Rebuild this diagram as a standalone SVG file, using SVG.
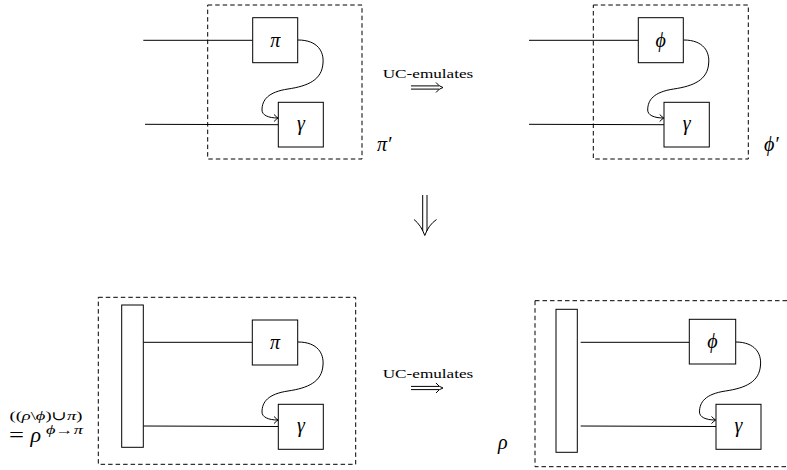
<svg xmlns="http://www.w3.org/2000/svg" width="787" height="470" viewBox="0 0 787 470">
<style>
.box{fill:#fff;stroke:#000;stroke-width:1}
.dash{fill:none;stroke:#000;stroke-width:1;stroke-dasharray:4.5,3}
.ln{fill:none;stroke:#000;stroke-width:1}
.m{font-family:"Liberation Serif","DejaVu Serif",serif;font-style:italic;font-size:20px;fill:#000}
.r{font-family:"Liberation Serif","DejaVu Serif",serif;font-style:normal;fill:#000}
.uc{font-family:"Liberation Serif","DejaVu Serif",serif;font-size:13px;fill:#000}
</style>
<defs>
<marker id="ah" markerUnits="userSpaceOnUse" markerWidth="10" markerHeight="10" refX="0" refY="0" viewBox="-5 -5 10 10" orient="auto" overflow="visible">
<path d="M-4,-3.5 Q-1.5,-1 0,0 Q-1.5,1 -4,3.5" fill="none" stroke="#000" stroke-width="1"/>
</marker>
<g id="dbl">
<line x1="411" y1="-1.6" x2="439" y2="-1.6" class="ln"/>
<line x1="411" y1="1.6" x2="439" y2="1.6" class="ln"/>
<path d="M436,-5 Q439,-1 443,0 Q439,1 436,5" class="ln"/>
</g>
</defs>

<g id="frame-top-left"><rect x="207.7" y="5" width="154.3" height="154" class="dash"/></g>
<g id="frame-top-right"><rect x="593.3" y="5" width="155" height="154" class="dash"/></g>
<g id="frame-bottom-left"><rect x="98.3" y="297.3" width="257.4" height="167" class="dash"/></g>
<g id="frame-bottom-right"><rect x="535" y="300.7" width="260" height="166" class="dash"/></g>

<g id="connectors">
<line x1="143.3" y1="40.3" x2="252.7" y2="40.3" class="ln"/>
<line x1="145" y1="124.3" x2="278.3" y2="124.7" class="ln"/>
<path d="M298,40 C318,40 324,52 323,63 C322,80 308,86 288,89 C268,92 262,100 262,110 C262,115 268,118 278,118" class="ln" marker-end="url(#ah)"/>
<line x1="529" y1="40.3" x2="638.3" y2="40.3" class="ln"/>
<line x1="529" y1="124.3" x2="664" y2="124.7" class="ln"/>
<path transform="translate(385.7,0)" d="M298,40 C318,40 324,52 323,63 C322,80 308,86 288,89 C268,92 262,100 262,110 C262,115 268,118 278,118" class="ln" marker-end="url(#ah)"/>
<line x1="143.3" y1="342.3" x2="252.3" y2="342.3" class="ln"/>
<line x1="143.3" y1="426" x2="278.3" y2="426.5" class="ln"/>
<path transform="translate(0,302)" d="M298,40 C318,40 324,52 323,63 C322,80 308,86 288,89 C268,92 262,100 262,110 C262,115 268,118 278,118" class="ln" marker-end="url(#ah)"/>
<line x1="580.7" y1="342.3" x2="689.3" y2="342.3" class="ln"/>
<line x1="580.7" y1="426" x2="716" y2="426.5" class="ln"/>
<path transform="translate(437.5,302)" d="M298,40 C318,40 324,52 323,63 C322,80 308,86 288,89 C268,92 262,100 262,110 C262,115 268,118 278,118" class="ln" marker-end="url(#ah)"/>
<use href="#dbl" transform="translate(0,87.5)"/>
<use href="#dbl" transform="translate(0,388)"/>
<line x1="422.7" y1="195" x2="422.7" y2="231" class="ln"/>
<line x1="427" y1="195" x2="427" y2="231" class="ln"/>
<path d="M414,219.5 Q421,225 424.8,235.5 Q428.5,225 436.5,219.5" class="ln"/>
</g>

<g id="pi-top"><rect x="252.7" y="17.7" width="45" height="45" class="box"/><text x="275.2" y="47" text-anchor="middle" class="m">π</text></g>
<g id="gamma-top-left"><rect x="278.3" y="102.3" width="45" height="44.7" class="box"/><text x="301" y="129.5" text-anchor="middle" class="m">γ</text></g>
<g id="pi-prime-label"><text x="377" y="151" class="m">π′</text></g>

<g id="phi-top"><rect x="638.3" y="17.7" width="45" height="45" class="box"/><text x="660.8" y="46.5" text-anchor="middle" class="m">ϕ</text></g>
<g id="gamma-top-right"><rect x="664" y="102.3" width="45.3" height="44.7" class="box"/><text x="686.7" y="129.5" text-anchor="middle" class="m">γ</text></g>
<g id="phi-prime-label"><text x="764" y="151" class="m">ϕ′</text></g>

<g id="uc-top"><text x="382.7" y="78" class="uc" textLength="90.6" lengthAdjust="spacingAndGlyphs">UC-emulates</text></g>
<g id="uc-bottom"><text x="382.7" y="378" class="uc" textLength="90.6" lengthAdjust="spacingAndGlyphs">UC-emulates</text></g>

<g id="rho-bar-left"><rect x="121.7" y="305" width="21.6" height="142.3" class="box"/></g>
<g id="pi-bottom"><rect x="252.3" y="320" width="45.4" height="45" class="box"/><text x="275" y="349" text-anchor="middle" class="m">π</text></g>
<g id="gamma-bottom-left"><rect x="278.3" y="404.3" width="45" height="45" class="box"/><text x="301" y="431.5" text-anchor="middle" class="m">γ</text></g>
<g id="rho-formula-label">
<text x="9.5" y="420" style="font-size:12.5px" class="r" textLength="73" lengthAdjust="spacingAndGlyphs">((<tspan style="font-style:italic">ρ</tspan>\<tspan style="font-style:italic">ϕ</tspan>)∪<tspan style="font-style:italic">π</tspan>)</text>
<text x="9" y="442" style="font-size:22px" class="r" textLength="15" lengthAdjust="spacingAndGlyphs">=</text>
<text x="30.5" y="442" style="font-size:22px" class="m">ρ</text>
<text x="46" y="433.5" style="font-size:12px" class="r" textLength="37" lengthAdjust="spacingAndGlyphs"><tspan style="font-style:italic">ϕ</tspan>→<tspan style="font-style:italic">π</tspan></text>
</g>

<g id="rho-bar-right"><rect x="556" y="309.3" width="21.3" height="143" class="box"/></g>
<g id="phi-bottom"><rect x="689.3" y="319.3" width="46.4" height="44.7" class="box"/><text x="712.5" y="348" text-anchor="middle" class="m">ϕ</text></g>
<g id="gamma-bottom-right"><rect x="716" y="404.3" width="45" height="45" class="box"/><text x="738.5" y="431.5" text-anchor="middle" class="m">γ</text></g>
<g id="rho-label"><text x="498" y="449" class="m">ρ</text></g>
</svg>
